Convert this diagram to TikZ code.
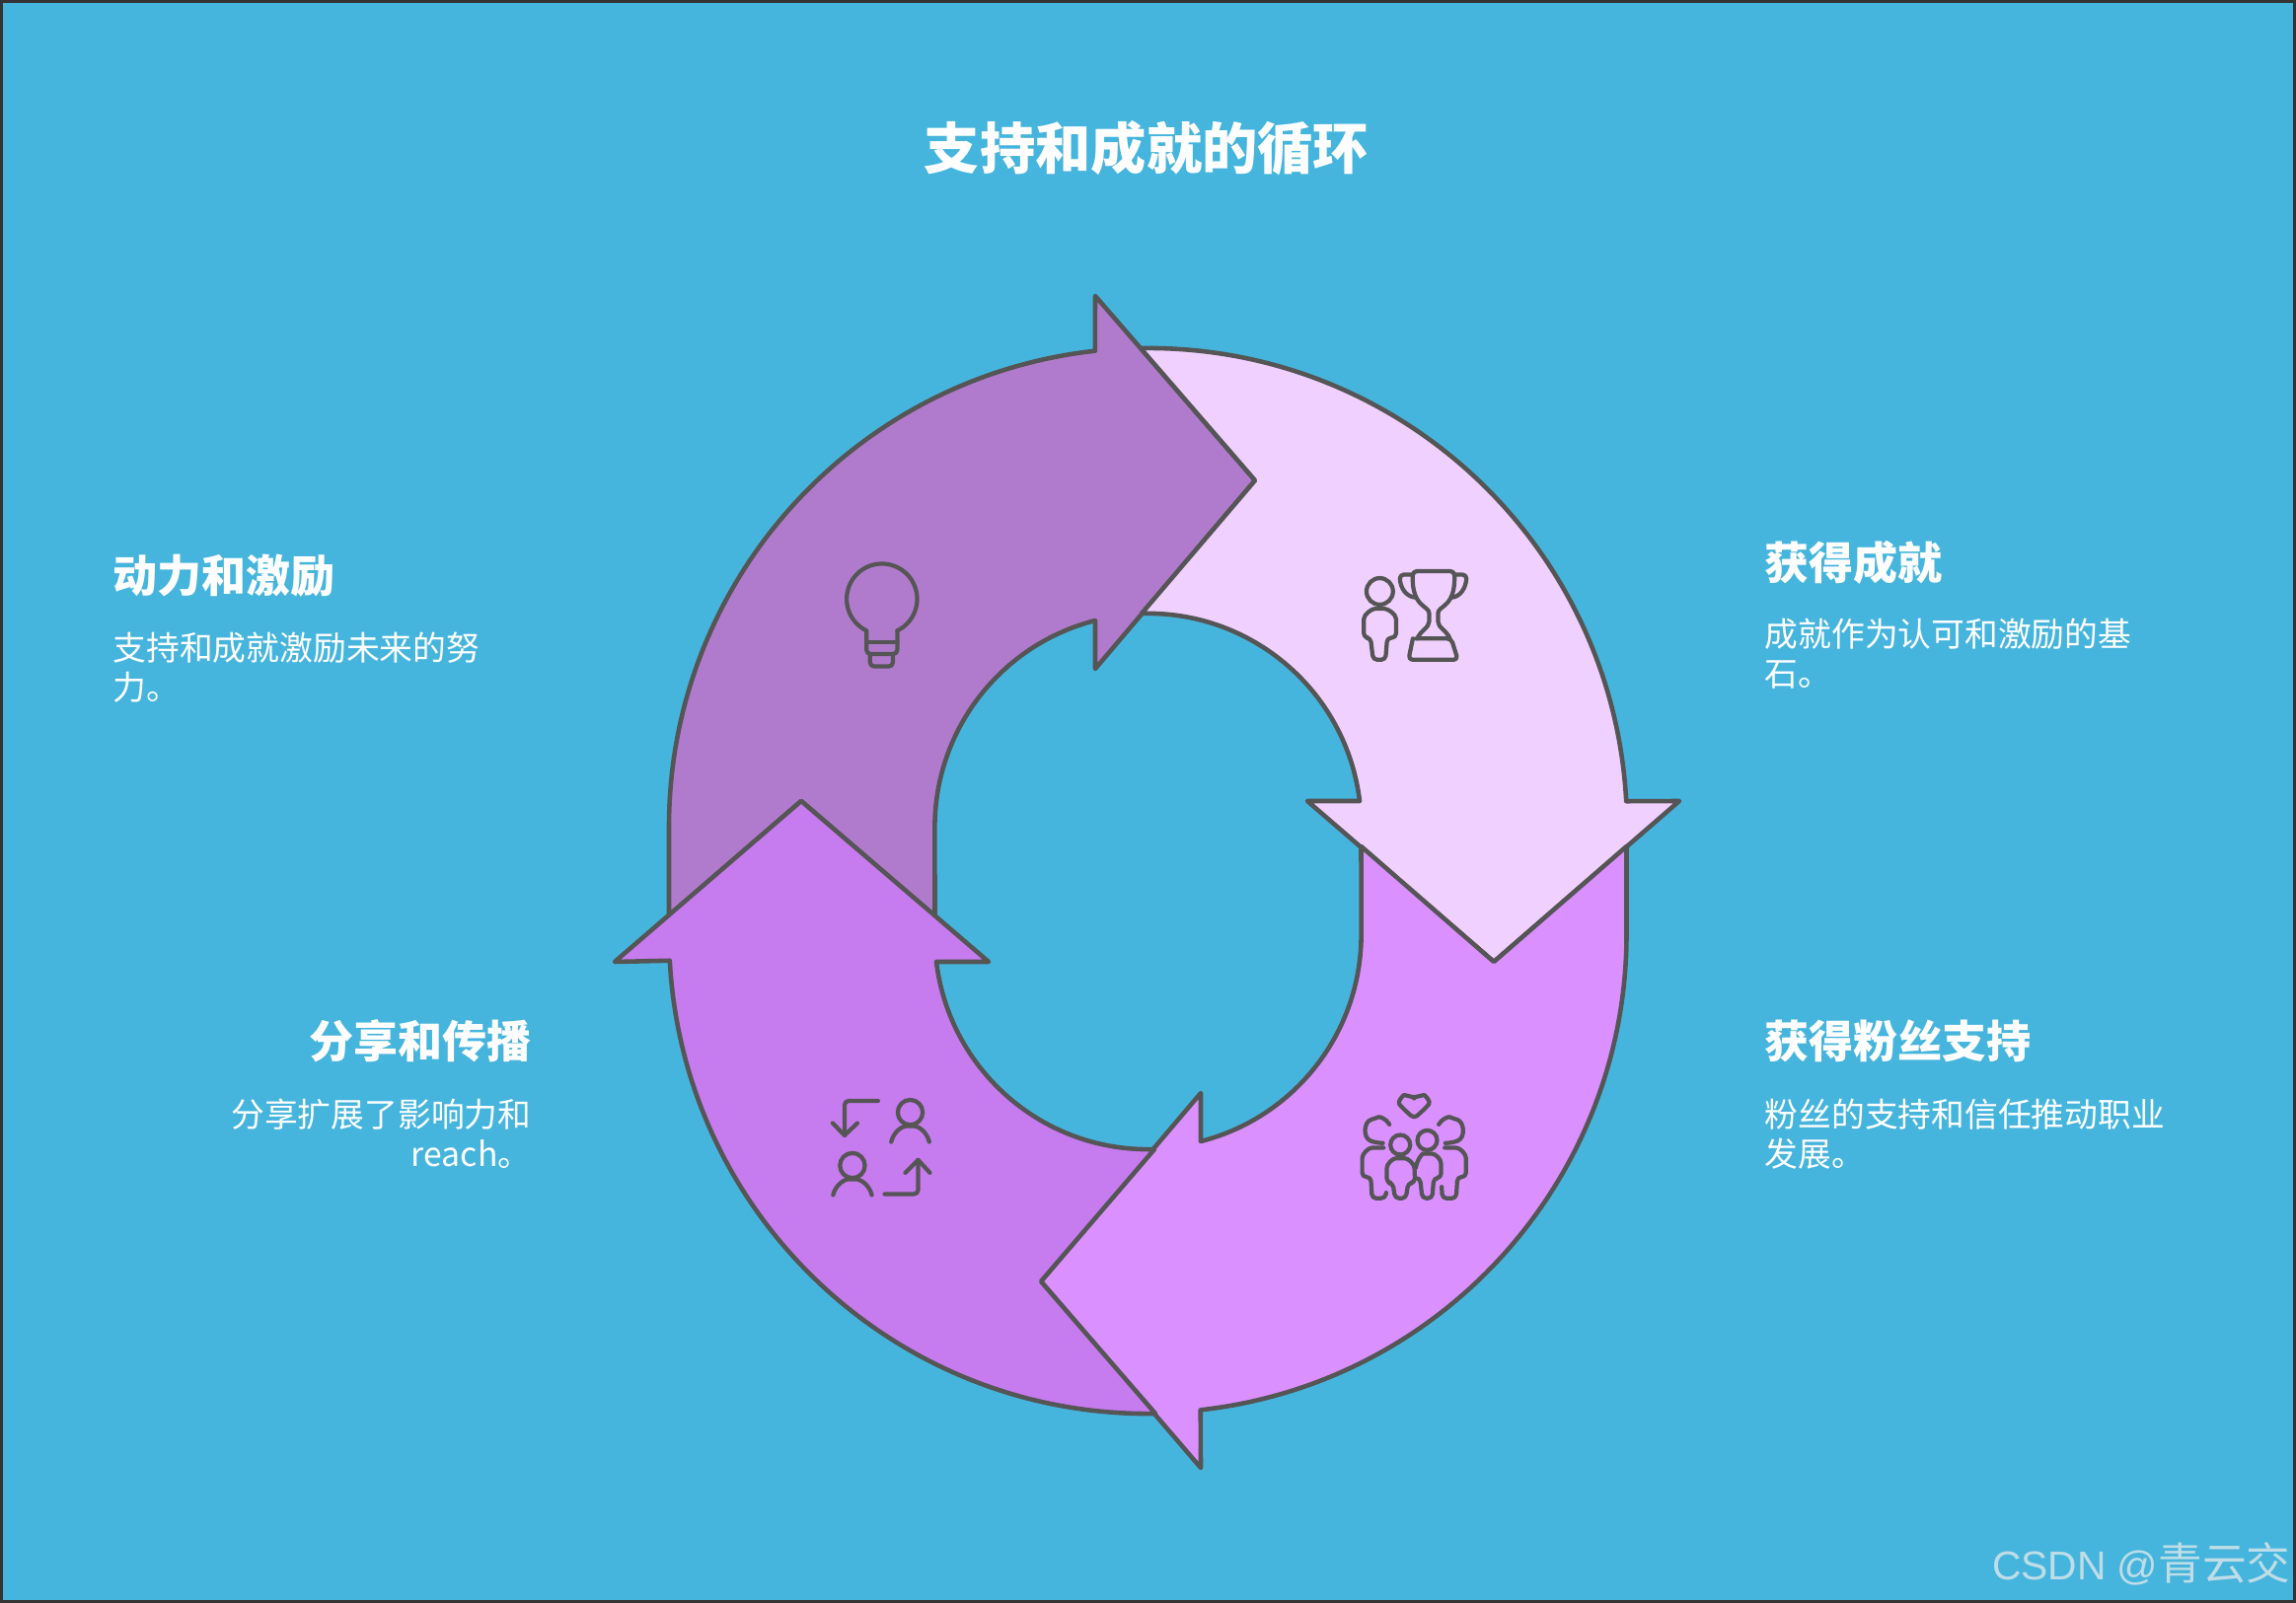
\documentclass[tikz,border=0pt]{standalone}
\usepackage{fontspec}
\setmainfont{Noto Sans CJK SC}
\newfontfamily\wmlatin{Liberation Sans}
\definecolor{bgblue}{HTML}{46B5DD}
\definecolor{edgegrey}{HTML}{555555}
\definecolor{framegrey}{HTML}{333333}
\definecolor{pieceTL}{HTML}{B17BCD}
\definecolor{pieceTR}{HTML}{F0D0FF}
\definecolor{pieceBR}{HTML}{DA90FF}
\definecolor{pieceBL}{HTML}{C67BEE}
\definecolor{wmcol}{HTML}{BEDDE7}
\tikzset{
  piece/.style={draw=edgegrey,line width=1.3pt,line join=round},
  iconline/.style={draw=edgegrey,line width=1.2pt,line cap=round,line join=round,rounded corners=1.2pt},
  titletext/.style={text=white,inner sep=0pt,font=\fontsize{16}{19}\selectfont\bfseries},
  headleft/.style={text=white,inner sep=0pt,anchor=west,font=\fontsize{12.8}{15}\selectfont\bfseries},
  headright/.style={text=white,inner sep=0pt,anchor=east,font=\fontsize{12.8}{15}\selectfont\bfseries},
  bodyleft/.style={text=white,inner sep=0pt,anchor=west,align=left,font=\fontsize{9.6}{11.38}\selectfont},
  bodyright/.style={text=white,inner sep=0pt,anchor=east,align=right,font=\fontsize{9.6}{11.38}\selectfont},
}
\begin{document}
\begin{tikzpicture}[x=0.01cm,y=0.01cm,yscale=-1]
\useasboundingbox (0,0) rectangle (2327,1625);
\fill[bgblue] (0,0) rectangle (2327,1625);
\draw[color=framegrey,line width=0.9pt] (1.5,1.5) rectangle (2325.5,1623.5);

% cycle pieces (each carries a notch for the preceding arrow's head)
\draw[piece,fill=pieceTL] (678,928) -- (678,838)
  arc[start angle=180,end angle=263.67,radius=4.85cm]
  -- (1110,300) -- (1272,487) -- (1110,678) -- (1110,629)
  arc[start angle=255.66,end angle=180,radius=2.16cm]
  -- (947.5,929) -- (812,812) -- cycle;
\draw[piece,fill=pieceTR] (1156,353)
  arc[start angle=269.1,end angle=356.93,radius=4.85cm]
  -- (1702,812) -- (1514,975) -- (1325,812) -- (1378,812)
  arc[start angle=353.09,end angle=268.28,radius=2.16cm]
  -- (1272,487) -- cycle;
\draw[piece,fill=pieceBR] (1648.5,858) -- (1648.5,947)
  arc[start angle=0,end angle=83.67,radius=4.85cm]
  -- (1217,1488) -- (1055,1299) -- (1217,1108) -- (1217,1157)
  arc[start angle=75.66,end angle=0,radius=2.16cm]
  -- (1379.5,858) -- (1514,975) -- cycle;
\draw[piece,fill=pieceBL] (1171,1433)
  arc[start angle=89.1,end angle=176.93,radius=4.85cm]
  -- (623,975) -- (812,812) -- (1002,975) -- (949,975)
  arc[start angle=173.09,end angle=88.28,radius=2.16cm]
  -- (1055,1299) -- cycle;

% bulb + trophy icons (coordinates from 2.24x crop)
\begin{scope}[shift={(820,540)},x=0.004464cm,y=0.004464cm]
  \draw[iconline] (130,222) arc[start angle=116,end angle=424,radius=0.357cm];
  \draw[iconline] (130,222) -- (130,275) -- (200,275) -- (200,222);
  \draw[iconline] (130,248) -- (200,248);
  \draw[iconline] (138,278) -- (138,303) -- (190,303) -- (190,278);
  % person with trophy
  \draw[iconline] (1293,133) circle[radius=30];
  \draw[iconline] (1257,238) -- (1257,205) .. controls (1257,185) and (1275,172) .. (1293,172)
     .. controls (1312,172) and (1330,185) .. (1330,205) -- (1330,238) -- (1310,238) -- (1306,288) -- (1278,288) -- (1272,238) -- cycle;
  \draw[iconline] (1378,240) .. controls (1385,222) and (1405,215) .. (1405,192)
     .. controls (1405,165) and (1365,170) .. (1368,87) -- (1462,87)
     .. controls (1465,170) and (1425,165) .. (1425,192)
     .. controls (1425,215) and (1445,222) .. (1452,240);
  \draw[iconline] (1375,240) -- (1455,240) -- (1470,288) -- (1358,288) -- (1368,240);
  \draw[iconline] (1368,95) -- (1338,95) .. controls (1340,125) and (1352,145) .. (1374,147);
  \draw[iconline] (1462,95) -- (1490,95) .. controls (1488,125) and (1476,145) .. (1456,147);
\end{scope}

% family icon (coordinates from 3x crop)
\begin{scope}[shift={(1340,1060)},x=0.003333cm,y=0.003333cm]
  \draw[iconline] (280,222) -- (243,188) .. controls (228,170) and (248,150) .. (262,153)
     .. controls (270,155) and (278,160) .. (280,168) .. controls (282,160) and (290,155) .. (298,153)
     .. controls (312,150) and (332,170) .. (317,188) -- cycle;
  \draw[iconline] (205,240) .. controls (195,222) and (175,216) .. (160,222)
     .. controls (128,232) and (122,280) .. (160,295) -- (185,297);
  \draw[iconline] (355,240) .. controls (365,222) and (385,216) .. (400,222)
     .. controls (432,232) and (438,280) .. (400,295) -- (375,297);
  \draw[iconline] (238,302) circle[radius=30];
  \draw[iconline] (320,288) circle[radius=30];
  \draw[iconline] (187,311) -- (165,311) .. controls (140,311) and (122,330) .. (122,355)
     -- (122,400) -- (148,400) -- (152,465) -- (192,465) -- (195,448);
  \draw[iconline] (373,311) -- (395,311) .. controls (420,311) and (438,330) .. (438,355)
     -- (438,400) -- (412,400) -- (408,465) -- (366,465) -- (364,430);
  \draw[iconline] (197,418) -- (197,385) .. controls (197,360) and (215,343) .. (238,343)
     .. controls (262,343) and (280,360) .. (282,385) -- (282,418) -- (262,418) -- (255,465) -- (222,465) -- (215,418) -- cycle;
  \draw[iconline] (285,372) .. controls (290,345) and (305,329) .. (320,329)
     .. controls (345,329) and (362,345) .. (362,372) -- (362,403) -- (340,403) -- (335,465) -- (305,465) -- (298,403) -- (285,403);
\end{scope}

% swap icon (coordinates from 3x crop)
\begin{scope}[shift={(820,1090)},x=0.003333cm,y=0.003333cm]
  \draw[iconline] (210,78) -- (108,78) -- (108,183);
  \draw[iconline,rounded corners=0pt] (72,146) -- (108,183) -- (147,146);
  \draw[iconline] (308,113) circle[radius=38];
  \draw[iconline] (250,203) .. controls (258,170) and (285,155) .. (308,155) .. controls (331,155) and (358,170) .. (366,203);
  \draw[iconline] (132,275) circle[radius=38];
  \draw[iconline] (73,365) .. controls (81,332) and (109,317) .. (132,317) .. controls (155,317) and (183,332) .. (191,365);
  \draw[iconline] (230,362) -- (332,362) -- (332,258);
  \draw[iconline,rounded corners=0pt] (293,297) -- (332,258) -- (368,297);
\end{scope}

% texts
\node[titletext] (title) at (1162,150) {支持和成就的循环};
\node[headleft] (h1) at (114,584) {动力和激励};
\node[bodyleft] (b1) at (114,677) {支持和成就激励未来的努\\力。};
\node[headleft] (h2) at (1788,570) {获得成就};
\node[bodyleft] (b2) at (1788,663) {成就作为认可和激励的基\\石。};
\node[headright] (h3) at (539,1055) {分享和传播};
\node[bodyright] (b3) at (539,1149) {分享扩展了影响力和\\reach。};
\node[headleft] (h4) at (1788,1055) {获得粉丝支持};
\node[bodyleft] (b4) at (1788,1150) {粉丝的支持和信任推动职业\\发展。};
\node[text=wmcol,inner sep=0pt,anchor=east,font=\fontsize{12.7}{15}\selectfont] (wm) at (2322,1585) {{\wmlatin\fontsize{11.6}{15}\selectfont CSDN @}青云交};
\end{tikzpicture}
\end{document}
